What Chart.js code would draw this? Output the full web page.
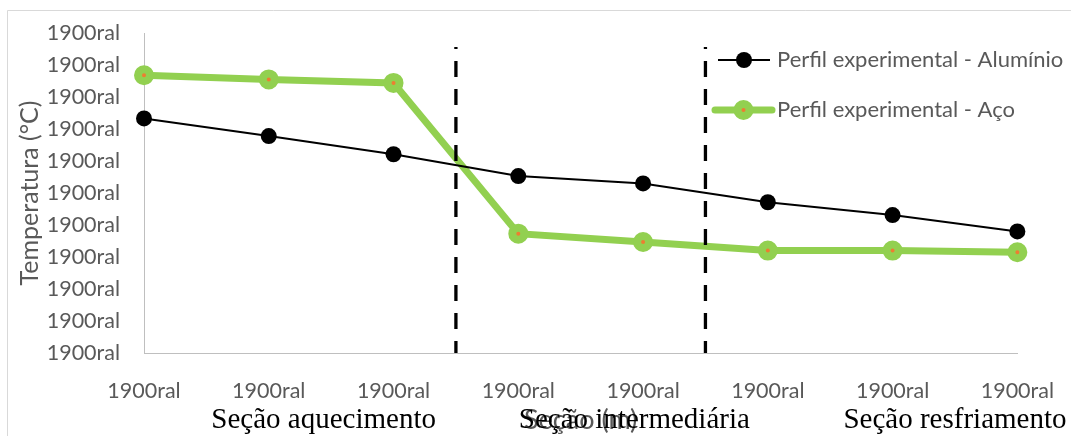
<!DOCTYPE html>
<html lang="pt">
<head>
    <meta charset="UTF-8" />
    <title>Perfil experimental</title>
    <script src="https://cdn.jsdelivr.net/npm/chart.js"></script>
    <style>
        body {
          margin: 0;
          background: white;
        }

        .chart-container {
          position: relative;
          width: 1071px;
          height: 436px;
        }
    </style>
</head>
<body>

<div class="chart-container">
    <canvas id="perfilChart"></canvas>
</div>

<script>
    // values
    const categories = ['1900ral', '1900ral', '1900ral', '1900ral', '1900ral', '1900ral', '1900ral', '1900ral'];
    const yTickLabels = ['1900ral', '1900ral', '1900ral', '1900ral', '1900ral', '1900ral',
                         '1900ral', '1900ral', '1900ral', '1900ral', '1900ral'];
    const aluminio = [7.33, 6.78, 6.21, 5.53, 5.30, 4.71, 4.31, 3.80];
    const aco = [8.68, 8.55, 8.44, 3.73, 3.47, 3.20, 3.20, 3.15];
    const seriesNames = ['Perfil experimental - Alumínio', 'Perfil experimental - Aço'];
    const sectionNames = ['Seção aquecimento', 'Seção intermediária', 'Seção resfriamento'];
    const sectionAt = [1.44, 3.93, 6.5];   // in category units
    const dividersAt = [2.5, 4.5];

    const GREEN = '#92D050';
    const ORANGE = '#ED7D31';
    const GRAY_TEXT = '#595959';

    function xAt(scale, idx) {
      const a = scale.getPixelForValue(0);
      const b = scale.getPixelForValue(1);
      return a + (b - a) * idx;
    }

    // frame, dashed section dividers, section names and legend
    const extras = {
      id: 'extras',
      beforeDraw(chart) {
        const ctx = chart.ctx;
        ctx.save();
        ctx.fillStyle = 'white';
        ctx.fillRect(0, 0, chart.width, chart.height);
        ctx.strokeStyle = '#D9D9D9';
        ctx.lineWidth = 1;
        ctx.beginPath();
        ctx.moveTo(7.5, chart.height);
        ctx.lineTo(7.5, 10.5);
        ctx.lineTo(chart.width, 10.5);
        ctx.stroke();
        ctx.restore();
      },
      afterDatasetsDraw(chart) {
        const ctx = chart.ctx;
        const x = chart.scales.x, y = chart.scales.y;
        ctx.save();
        ctx.strokeStyle = 'black';
        ctx.lineWidth = 3.3;
        ctx.setLineDash([16, 12]);
        ctx.lineDashOffset = 14;
        dividersAt.forEach(d => {
          const px = xAt(x, d);
          ctx.beginPath();
          ctx.moveTo(px, 47);
          ctx.lineTo(px, y.bottom);
          ctx.stroke();
        });
        ctx.setLineDash([]);

        // section names
        ctx.fillStyle = 'black';
        ctx.font = '29px "Liberation Serif", serif';
        ctx.textAlign = 'center';
        ctx.textBaseline = 'alphabetic';
        sectionNames.forEach((s, i) => {
          ctx.fillText(s, xAt(x, sectionAt[i]), 428);
        });

        // legend
        const sets = chart.data.datasets;
        const rows = [60, 110];
        ctx.font = '22px Lato, sans-serif';
        ctx.textAlign = 'left';
        ctx.textBaseline = 'middle';
        sets.forEach((ds, i) => {
          const ly = rows[i];
          const x0 = i === 0 ? 718 : 715, x1 = i === 0 ? 770 : 772;
          const mx = (x0 + x1) / 2;
          ctx.strokeStyle = ds.borderColor;
          ctx.lineWidth = ds.borderWidth;
          ctx.lineCap = i === 1 ? 'round' : 'butt';
          ctx.beginPath();
          ctx.moveTo(x0, ly);
          ctx.lineTo(x1, ly);
          ctx.stroke();
          ctx.beginPath();
          ctx.arc(mx, ly, ds.pointRadius, 0, Math.PI * 2);
          ctx.fillStyle = ds.pointBackgroundColor;
          ctx.fill();
          if (ds.pointBorderWidth) {
            ctx.lineWidth = ds.pointBorderWidth;
            ctx.strokeStyle = ds.pointBorderColor;
            ctx.stroke();
          }
          ctx.fillStyle = GRAY_TEXT;
          ctx.fillText(ds.label, 777, ly);
        });
        ctx.restore();
      }
    };

    const ctx = document.getElementById('perfilChart').getContext('2d');
    new Chart(ctx, {
      type: 'line',
      data: {
        labels: categories,
        datasets: [
          {
            label: seriesNames[0],
            data: aluminio,
            borderColor: 'black',
            borderWidth: 2,
            pointRadius: 8,
            pointBackgroundColor: 'black',
            pointBorderColor: 'black',
            pointBorderWidth: 0,
            clip: false,
            tension: 0
          },
          {
            label: seriesNames[1],
            data: aco,
            borderColor: GREEN,
            borderWidth: 7,
            pointRadius: 6,
            pointBackgroundColor: ORANGE,
            pointBorderColor: GREEN,
            pointBorderWidth: 8,
            clip: false,
            tension: 0
          }
        ]
      },
      options: {
        responsive: true,
        maintainAspectRatio: false,
        animation: false,
        layout: {
          padding: { left: 0, top: 33, right: 52, bottom: 0 }
        },
        scales: {
          x: {
            grid: { display: false },
            border: { display: true, color: '#BFBFBF', width: 1 },
            ticks: {
              color: GRAY_TEXT,
              font: { family: 'Lato', size: 21.5 },
              padding: 17,
              maxRotation: 0,
              autoSkip: false
            },
            title: {
              display: true,
              text: 'Seção (m)',
              color: GRAY_TEXT,
              font: { family: 'Lato', size: 27 },
              padding: { top: 0, bottom: 0 }
            },
            afterFit(scale) { scale.height = 83; }
          },
          y: {
            min: 0,
            max: 10,
            grid: { display: false },
            border: { display: true, color: '#BFBFBF', width: 1 },
            ticks: {
              stepSize: 1,
              color: GRAY_TEXT,
              font: { family: 'Lato', size: 21.5 },
              padding: 16,
              callback: (v, i) => yTickLabels[i]
            },
            title: {
              display: true,
              text: 'Temperatura (°C)',
              color: GRAY_TEXT,
              font: { family: 'Lato', size: 25 },
              padding: { top: 15, bottom: 0 }
            },
            afterFit(scale) { scale.width = 144; }
          }
        },
        plugins: {
          legend: { display: false },
          tooltip: { enabled: false }
        }
      },
      plugins: [extras]
    });
</script>

</body>
</html>
